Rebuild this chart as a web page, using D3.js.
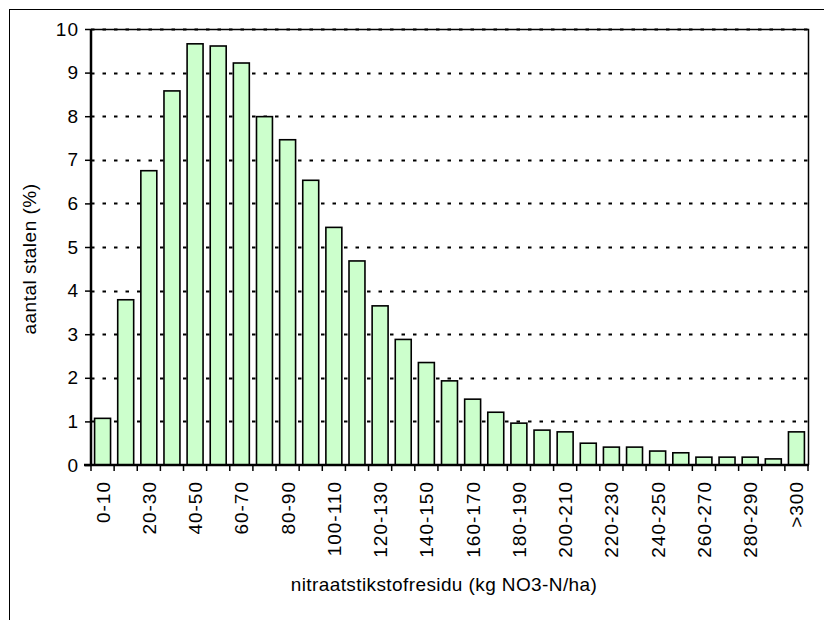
<!DOCTYPE html>
<html>
<head>
<meta charset="utf-8">
<script src="https://cdn.jsdelivr.net/npm/d3@7"></script>
<style>
  body { margin: 0; background: #fff; }
  svg text { font-family: Arial, "Liberation Sans", sans-serif; fill: #000; }
</style>
</head>
<body>
<script>
const categories = [
  '0-10', '10-20', '20-30', '30-40', '40-50', '50-60', '60-70', '70-80', '80-90', '90-100',
  '100-110', '110-120', '120-130', '130-140', '140-150', '150-160', '160-170', '170-180',
  '180-190', '190-200', '200-210', '210-220', '220-230', '230-240', '240-250', '250-260',
  '260-270', '270-280', '280-290', '290-300', '>300',
];
const values = [
  1.07, 3.79, 6.75, 8.58, 9.66, 9.61, 9.22, 7.99, 7.46, 6.53,
  5.45, 4.68, 3.65, 2.88, 2.35, 1.93, 1.51, 1.21, 0.96, 0.8,
  0.76, 0.5, 0.41, 0.41, 0.32, 0.28, 0.18, 0.18, 0.18, 0.14, 0.76,
];
const yTicks = [0, 1, 2, 3, 4, 5, 6, 7, 8, 9, 10];

const width = 824;
const height = 620;
const margin = { top: 29, right: 16, bottom: 155, left: 91 };

const svg = d3.select('body').append('svg').attr('width', width).attr('height', height);

// outer chart border (runs off the right and bottom edge)
svg
  .append('rect')
  .attr('x', 9.5)
  .attr('y', 9.5)
  .attr('width', width + 10)
  .attr('height', height + 10)
  .attr('fill', 'none')
  .attr('stroke', '#000')
  .attr('stroke-width', 1);

const x = d3
  .scaleBand()
  .domain(categories)
  .range([margin.left, width - margin.right])
  .paddingInner(0.31)
  .paddingOuter(0.155);

const y = d3
  .scaleLinear()
  .domain([0, 10])
  .range([height - margin.bottom, margin.top]);

const x0 = margin.left;
const x1 = width - margin.right;
const y0 = height - margin.bottom;

// dashed gridlines
svg
  .append('g')
  .selectAll('line')
  .data(yTicks.slice(1))
  .enter()
  .append('line')
  .attr('x1', x0)
  .attr('x2', x1)
  .attr('y1', (d) => Math.round(y(d)) + 0.5)
  .attr('y2', (d) => Math.round(y(d)) + 0.5)
  .attr('stroke', '#000')
  .attr('stroke-width', 2)
  .attr('stroke-dasharray', '3.5 8');

// plot border top/right
svg
  .append('path')
  .attr('d', `M${x0},${margin.top + 0.5}H${x1 + 0.5}V${y0}`)
  .attr('fill', 'none')
  .attr('stroke', '#000')
  .attr('stroke-width', 1.5);

// bars
svg
  .append('g')
  .selectAll('rect')
  .data(values)
  .enter()
  .append('rect')
  .attr('x', (d, i) => x(categories[i]))
  .attr('y', (d) => y(d))
  .attr('width', x.bandwidth())
  .attr('height', (d) => y(0) - y(d))
  .attr('fill', '#ccffcc')
  .attr('stroke', '#000')
  .attr('stroke-width', 1.6);

// y axis
const yAxis = svg
  .append('g')
  .attr('transform', `translate(${x0},0)`)
  .call(d3.axisLeft(y).tickValues(yTicks).tickSize(6).tickPadding(6));
yAxis.select('.domain').attr('stroke-width', 2.5).attr('d', `M0,${margin.top}V${y0 + 1}`);
yAxis.selectAll('.tick line').attr('stroke-width', 1.5);
yAxis
  .selectAll('.tick text')
  .attr('font-size', 19)
  .attr('letter-spacing', 1)
  .attr('font-family', 'Arial, "Liberation Sans", sans-serif');

// x axis: ticks at category boundaries, labels on every other category
const step = x.step();
const boundaries = d3.range(categories.length + 1).map((i) => x0 + i * step);
svg
  .append('g')
  .selectAll('line')
  .data(boundaries)
  .enter()
  .append('line')
  .attr('x1', (d) => d)
  .attr('x2', (d) => d)
  .attr('y1', y0)
  .attr('y2', y0 + 6)
  .attr('stroke', '#000')
  .attr('stroke-width', 1.5);

svg
  .append('line')
  .attr('x1', x0 - 7)
  .attr('x2', x1 + 1)
  .attr('y1', y0)
  .attr('y2', y0)
  .attr('stroke', '#000')
  .attr('stroke-width', 2.5);

svg
  .append('g')
  .selectAll('text')
  .data(categories.filter((d, i) => i % 2 === 0))
  .enter()
  .append('text')
  .attr('transform', (d) => `translate(${x(d) + x.bandwidth() / 2 + 7},${y0 + 16}) rotate(-90)`)
  .attr('text-anchor', 'end')
  .attr('font-size', 19)
  .attr('letter-spacing', 1)
  .text((d) => d);

// axis titles
svg
  .append('text')
  .attr('x', 444)
  .attr('y', 591)
  .attr('text-anchor', 'middle')
  .attr('font-size', 19)
  .attr('letter-spacing', 0.4)
  .text('nitraatstikstofresidu (kg NO3-N/ha)');

svg
  .append('text')
  .attr('transform', `translate(36,${(margin.top + y0) / 2 + 12}) rotate(-90)`)
  .attr('text-anchor', 'middle')
  .attr('font-size', 19)
  .attr('letter-spacing', 0.5)
  .text('aantal stalen (%)');
</script>
</body>
</html>
